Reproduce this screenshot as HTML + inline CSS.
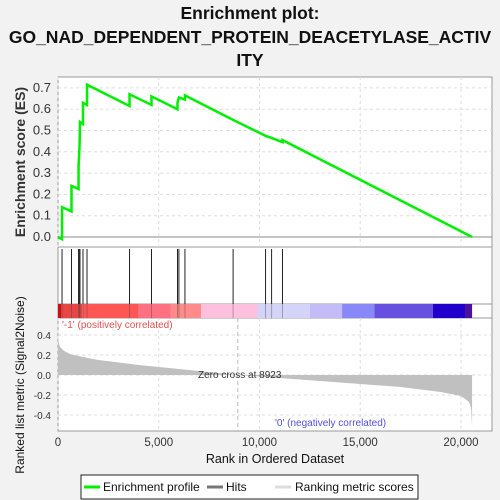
<!DOCTYPE html>
<html><head><meta charset="utf-8"><style>
body{margin:0;background:#f2f2f2;}
svg{display:block;font-family:"Liberation Sans",Arial,sans-serif;}
</style></head><body>
<svg id="c" width="500" height="500" viewBox="0 0 500 500">
<g font-weight="bold" font-size="17.5" text-anchor="middle" fill="#111">
<text x="250" y="19">Enrichment plot:</text>
<text x="250" y="43">GO_NAD_DEPENDENT_PROTEIN_DEACETYLASE_ACTIV</text>
<text x="250" y="66">ITY</text>
</g>
<rect x="58" y="77" width="434" height="354" fill="#fff" stroke="#999"/>
<line x1="58" y1="247" x2="492" y2="247" stroke="#999"/>
<line x1="58" y1="304" x2="492" y2="304" stroke="#999"/>
<line x1="58" y1="318" x2="492" y2="318" stroke="#999"/>
<g id="grid"></g>
<g id="bars"></g>
<g id="hits"></g>
<g id="metric"></g>
<g id="es"></g>
<g id="axes" font-size="11.5" fill="#333"></g>
<text x="62" y="328" font-size="10" fill="#e05050">'-1' (positively correlated)</text>
<text x="275" y="426" font-size="10" fill="#5050e0">'0' (negatively correlated)</text>
<text x="198" y="378" font-size="10" fill="#333">Zero cross at 8923</text>
<text x="275" y="463" font-size="12.5" text-anchor="middle" fill="#111">Rank in Ordered Dataset</text>
<text transform="translate(25,162) rotate(-90)" font-size="14" font-weight="bold" text-anchor="middle" fill="#333">Enrichment score (ES)</text>
<text transform="translate(24,385) rotate(-90)" font-size="12" text-anchor="middle" fill="#111">Ranked list metric (Signal2Noise)</text>
<g>
<rect x="81" y="475" width="337" height="24" fill="#fff" stroke="#222"/>
<line x1="84" y1="487" x2="100" y2="487" stroke="#00ee00" stroke-width="3"/>
<text x="103" y="491" font-size="12" fill="#111">Enrichment profile</text>
<line x1="207" y1="487" x2="223" y2="487" stroke="#777" stroke-width="3"/>
<text x="226" y="491" font-size="12" fill="#111">Hits</text>
<line x1="275" y1="487" x2="291" y2="487" stroke="#ddd" stroke-width="3"/>
<text x="295" y="491" font-size="12" fill="#111">Ranking metric scores</text>
</g>
</svg>
<script>
const esRanks=[0,200,200,670,670,1020,1020,1070,1090,1240,1240,1440,1440,3550,3550,4640,4640,5930,5930,6000,6300,6300,8690,10300,10600,11140,11140,20550];
const esValues=[0,-0.01,0.14,0.12,0.24,0.225,0.33,0.43,0.54,0.53,0.63,0.62,0.715,0.615,0.67,0.62,0.66,0.60,0.63,0.655,0.645,0.665,0.55,0.475,0.465,0.445,0.455,0];
const hitRanks=[200,670,1020,1070,1090,1240,1440,3550,4640,5930,6000,6300,8690,10300,10600,11140];
const metricRanks=[0,30,100,300,600,1000,2000,4000,6000,8923,11000,13000,15000,17000,19000,20000,20400,20500,20550];
const metricValues=[0.4,0.33,0.28,0.24,0.21,0.19,0.15,0.1,0.06,0,-0.03,-0.06,-0.09,-0.12,-0.17,-0.21,-0.27,-0.33,-0.52];
const xTicks=[0,5000,10000,15000,20000];
const esTicks=[0,0.1,0.2,0.3,0.4,0.5,0.6,0.7];
const metricTicks=[-0.4,-0.2,0,0.2,0.4];
const barStops=[0,150,1200,4000,5600,7100,9900,12500,14100,15700,18600,20200,20550];
const barColors=["#cc1010","#e84545","#ff5555","#ff7080","#ff8a8a","#ffc0e0","#d4d4f8","#c4bcf8","#8888f8","#6650e0","#2200cc","#4a10a0"];
const NS="http://www.w3.org/2000/svg";
const X=r=>58+r*0.02015;
const YE=v=>237-v*213;
const YM=v=>375-v*100;
function mk(parent,tag,attrs){const e=document.createElementNS(NS,tag);for(const k in attrs)e.setAttribute(k,attrs[k]);document.getElementById(parent).appendChild(e);return e;}
xTicks.forEach(t=>{
 const g=mk('grid','line',{x1:X(t),x2:X(t),y1:77,y2:247,stroke:'#ddd','stroke-dasharray':'3,3'});
 
 
 mk('grid','line',{x1:X(t),x2:X(t),y1:318,y2:431,stroke:'#ddd','stroke-dasharray':'3,3'});
 const l=mk('axes','text',{x:X(t),y:446,'text-anchor':'middle'});l.textContent=t.toLocaleString('en-US');
 
 
});
esTicks.forEach(t=>{
 mk('grid','line',{x1:58,x2:492,y1:YE(t),y2:YE(t),stroke:'#ddd','stroke-dasharray':'3,3'});
 const l=mk('axes','text',{x:51,y:YE(t)+4,'text-anchor':'end','font-size':'13'});l.textContent=t.toFixed(1);
 
 
});
metricTicks.forEach(t=>{
 mk('grid','line',{x1:58,x2:492,y1:YM(t),y2:YM(t),stroke:'#ddd','stroke-dasharray':'3,3'});
 const l=mk('axes','text',{x:51,y:YM(t)+4,'text-anchor':'end','font-size':'10'});l.textContent=t.toFixed(1);
 
 
});
mk('grid','line',{x1:58,x2:492,y1:YE(0),y2:YE(0),stroke:'#888'});
mk('grid','line',{x1:X(8923),x2:X(8923),y1:318,y2:431,stroke:'#bbb','stroke-dasharray':'4,3'});
barColors.forEach((c,i)=>{
 const r=mk('bars','rect',{x:X(barStops[i]),y:304,width:X(barStops[i+1])-X(barStops[i]),height:14,fill:c});
 
 
});
hitRanks.forEach(h=>{
 const l=mk('hits','line',{x1:X(h),x2:X(h),y1:249,y2:304,stroke:'#222','stroke-width':1});
 
 
 mk('hits','line',{x1:X(h),x2:X(h),y1:304,y2:318,stroke:'#444','stroke-opacity':0.4});
});
let d='M'+X(0)+','+YM(0);
metricRanks.forEach((r,i)=>{d+=' L'+X(r)+','+YM(metricValues[i]);});
d+=' L'+X(20550)+','+YM(0)+'Z';
const ma=mk('metric','path',{d:d,fill:'#c0c0c0'});


const pts=esRanks.map((r,i)=>X(r)+','+YE(esValues[i])).join(' ');
const es=mk('es','polyline',{points:pts,fill:'none',stroke:'#00ee00','stroke-width':2.5});


</script>
</body></html>
